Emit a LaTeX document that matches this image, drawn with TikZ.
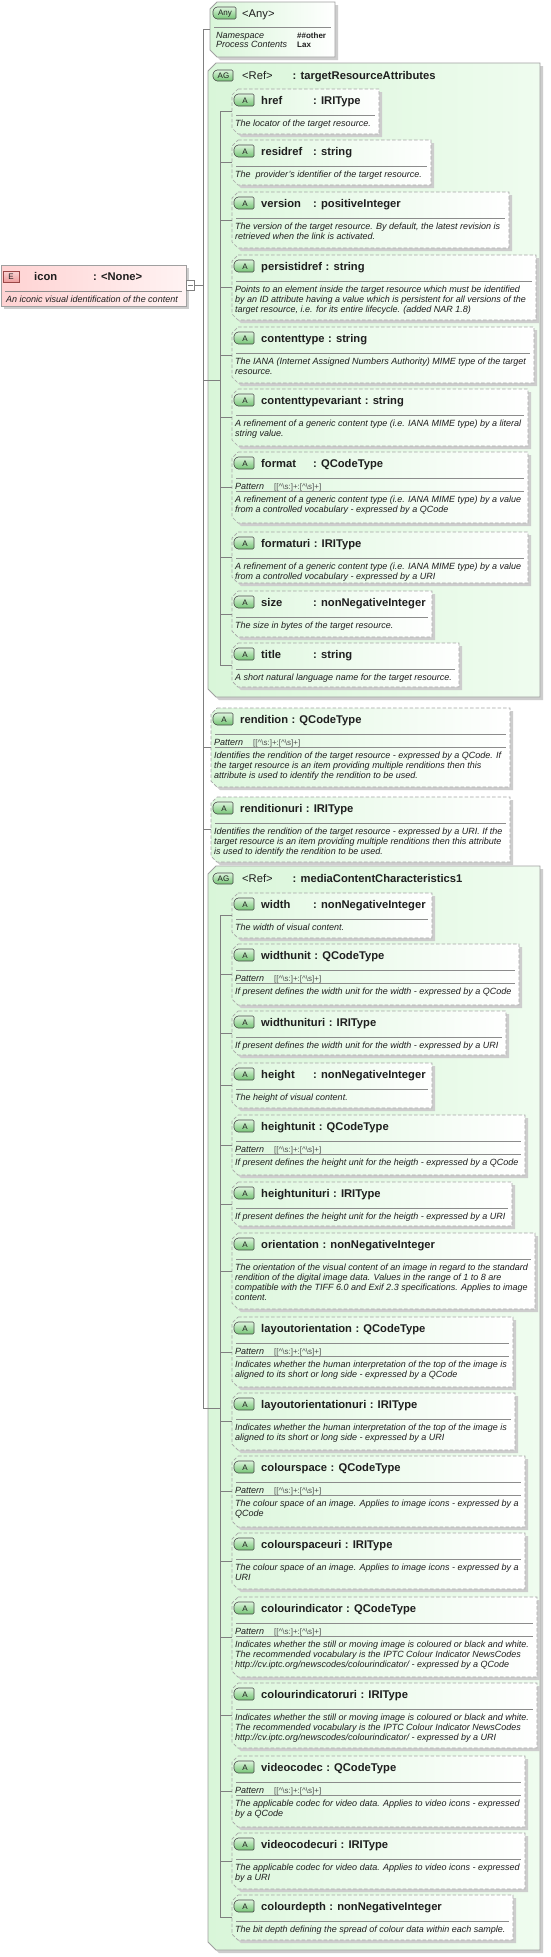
\documentclass[tikz,border=0pt]{standalone}
\usepackage{fontspec}
\setmainfont{Liberation Sans}
\definecolor{connc}{HTML}{7F7F7F}
\definecolor{dashc}{HTML}{A6A6A6}
\definecolor{shadc}{HTML}{CDCDCD}
\definecolor{agline}{HTML}{A0A0A0}
\definecolor{agfill}{HTML}{D9F6D9}
\definecolor{agfillb}{HTML}{EFFCEF}
\definecolor{afill}{HTML}{DDF7DD}
\definecolor{bdga}{HTML}{DDF5DD}
\definecolor{bdgb}{HTML}{74C474}
\definecolor{bdgline}{HTML}{4A4A4A}
\definecolor{txt}{HTML}{1E1E1E}
\definecolor{sepc}{HTML}{8C8C8C}
\definecolor{patc}{HTML}{505050}
\definecolor{efill}{HTML}{FFD2D2}
\definecolor{efillb}{HTML}{FFF3F3}
\definecolor{ebdga}{HTML}{FBD4D4}
\definecolor{ebdgb}{HTML}{EE9C9C}
\definecolor{ebdgline}{HTML}{9A4646}
\newcommand\patval{[[\textasciicircum\textbackslash s:]+:[\textasciicircum\textbackslash s]+]}
\newcommand\ttl[2]{\sbox0{#1}\ifdim\wd0<46pt\makebox[52pt][l]{#1}\else#1\hspace{3.5pt}\fi: #2}
\tikzset{
 conn/.style={draw=connc, line width=0.7pt},
 abody/.style={draw=dashc, line width=0.7pt, dash pattern=on 3.5pt off 2pt, left color=afill, right color=white},
 agbody/.style={draw=agline, line width=0.8pt, left color=agfill, right color=agfillb},
 anybody/.style={draw=agline, line width=0.8pt, left color=agfill, right color=white},
 ebody/.style={draw=agline, line width=0.8pt, left color=efill, right color=efillb},
 sepl/.style={draw=sepc, line width=0.6pt},
 bdg/.style={draw=bdgline, line width=0.6pt, top color=bdga, bottom color=bdgb, rounded corners=1.2pt},
 ebdg/.style={draw=ebdgline, line width=0.6pt, top color=ebdga, bottom color=ebdgb},
 bdgtxt/.style={font=\fontsize{8}{9}\selectfont, text=txt, inner sep=0},
 ttlf/.style={font=\fontsize{11.2}{13}\selectfont\bfseries, text=txt, inner sep=0},
 reff/.style={font=\fontsize{11.2}{13}\selectfont, text=txt, inner sep=0},
 descf/.style={font=\fontsize{9}{10}\selectfont\itshape, text=txt, inner sep=0},
 patf/.style={font=\fontsize{9}{10}\selectfont\itshape, text=txt, inner sep=0},
 patvf/.style={font=\fontsize{8}{9}\selectfont, text=patc, inner sep=0},
 valf/.style={font=\fontsize{8}{9}\selectfont\bfseries, text=txt, inner sep=0},
 hold/.style={inner sep=0, outer sep=0, draw=none},
}
% attribute box: id, x1, y1, x2, y2, name, type, pattern(0/1), description
\newcommand\Abox[9]{%
 \fill[shadc] ({#2+9},{#3+3}) -- ({#4+3},{#3+3}) -- ({#4+3},{#5+3}) -- ({#2+9},{#5+3}) -- ({#2+3},{#5-3}) -- ({#2+3},{#3+9}) -- cycle;
 \path[abody] ({#2+6},#3) -- (#4,#3) -- (#4,#5) -- ({#2+6},#5) -- (#2,{#5-6}) -- (#2,{#3+6}) -- cycle;
 \node[hold, minimum width={#4-#2}, minimum height={#5-#3}, anchor=north west] (#1) at (#2,#3) {};
 \path[bdg] ({#2+5},{#3+5}) -- ({#2+22},{#3+5}) -- ({#2+22},{#3+17}) -- ({#2+5},{#3+17}) -- ({#2+2},{#3+14}) -- ({#2+2},{#3+8}) -- cycle;
 \node[bdgtxt] (#1-b) at ({#2+13},{#3+11.3}) {A};
 \node[ttlf, anchor=base west] (#1-t) at ({#2+29},{#3+15}) {\ttl{#6}{#7}};
 \draw[sepl] ({#2+4},{#3+26}) -- ({#4-4},{#3+26});
 \ifnum#8=1\relax
  \node[patf, anchor=base west] (#1-p) at ({#2+3},{#3+37.5}) {Pattern};
  \node[patvf, anchor=base west] (#1-v) at ({#2+42},{#3+37.5}) {\patval};
  \draw[sepl] ({#2+4},{#3+39.5}) -- ({#4-4},{#3+39.5});
  \node[descf, anchor=base west] (#1-d) at ({#2+3},{#3+50.5}) {\parbox[t]{320pt}{\raggedright #9}};
 \else
  \node[descf, anchor=base west] (#1-d) at ({#2+3},{#3+37.5}) {\parbox[t]{320pt}{\raggedright #9}};
 \fi
}
% attribute group box: id, x1, y1, x2, y2, ref name
\newcommand\AGbox[6]{%
 \fill[shadc] ({#2+11},{#3+3}) -- ({#4+3},{#3+3}) -- ({#4+3},{#5+3}) -- ({#2+11},{#5+3}) -- ({#2+3},{#5-5}) -- ({#2+3},{#3+11}) -- cycle;
 \path[agbody] ({#2+8},#3) -- (#4,#3) -- (#4,#5) -- ({#2+8},#5) -- (#2,{#5-8}) -- (#2,{#3+8}) -- cycle;
 \node[hold, minimum width={#4-#2}, minimum height={#5-#3}, anchor=north west] (#1) at (#2,#3) {};
 \path[bdg] ({#2+8},{#3+7}) -- ({#2+25},{#3+7}) -- ({#2+25},{#3+18}) -- ({#2+8},{#3+18}) -- ({#2+5},{#3+15}) -- ({#2+5},{#3+10}) -- cycle;
 \node[bdgtxt] (#1-b) at ({#2+15.5},{#3+12.7}) {AG};
 \node[reff, anchor=base west] (#1-r) at ({#2+34},{#3+16.5}) {<Ref>};
 \node[ttlf, anchor=base west] (#1-t) at ({#2+84.5},{#3+16.5}) {: #6};
}
\begin{document}
\begin{tikzpicture}[x=1pt,y=-1pt]
\useasboundingbox (0,0) rectangle (551,1957);
\fill[white] (0,0) rectangle (551,1957);
\coordinate (trunk) at (203,0);
\coordinate (v1) at (220,0);
% icon element
\fill[shadc] (4,268) rectangle (189,309);
\path[ebody] (1,265) rectangle (186,306);
\node[hold, minimum width=185, minimum height=41, anchor=north west] (icon) at (1,265) {};
\path[ebdg] (3,271) rectangle (19,282);
\node[bdgtxt] (icon-b) at (11,276.7) {E};
\node[ttlf, anchor=base west] (icon-t) at (34,280.5) {icon};
\node[ttlf, anchor=base west] (icon-ty) at (93,280.5) {: <None>};
\draw[sepl] (5,291) -- (182,291);
\node[descf, anchor=base west] (icon-d) at (6,302) {An iconic visual identification of the content};
\node[draw=connc, fill=white, line width=0.6pt, minimum width=8, minimum height=10, inner sep=0, anchor=west] (exp) at (icon.east) {};
\draw[connc, line width=0.6pt] ([xshift=1.5pt]exp.west) -- ([xshift=-1.5pt]exp.east);
% any
\fill[shadc] (220,5) -- (338,5) -- (338,60) -- (220,60) -- (213,53) -- (213,12) -- cycle;
\path[anybody] (217,2) -- (335,2) -- (335,57) -- (217,57) -- (210,50) -- (210,9) -- cycle;
\node[hold, minimum width=125, minimum height=55, anchor=north west] (any) at (210,2) {};
\path[bdg] (216,7) -- (236,7) -- (236,19) -- (216,19) -- (213,16) -- (213,10) -- cycle;
\node[bdgtxt] (any-b) at (225,13.3) {Any};
\node[reff, anchor=base west] (any-t) at (242,17) {<Any>};
\draw[sepl] (214,27) -- (331,27);
\node[patf, anchor=base west] (any-ns) at (216,38.5) {Namespace};
\node[valf, anchor=base west] (any-nsv) at (297,38.5) {\#\#other};
\node[patf, anchor=base west] (any-pc) at (216,47.5) {Process Contents};
\node[valf, anchor=base west] (any-pcv) at (297,47.5) {Lax};
% group 1
\AGbox{ag1}{208}{63}{540}{697}{targetResourceAttributes}
\Abox{href}{232}{89}{379}{134}{href}{IRIType}{0}{The locator of the target resource.}
\Abox{residref}{232}{140}{431}{185}{residref}{string}{0}{The\ \ provider's identifier of the target resource.}
\Abox{version}{232}{192}{509}{248}{version}{positiveInteger}{0}{The version of the target resource. By default, the latest revision is\\retrieved when the link is activated.}
\Abox{persistidref}{232}{255}{536}{320}{persistidref}{string}{0}{Points to an element inside the target resource which must be identified\\by an ID attribute having a value which is persistent for all versions of the\\target resource, i.e. for its entire lifecycle. (added NAR 1.8)}
\Abox{contenttype}{232}{327}{534}{383}{contenttype}{string}{0}{The IANA (Internet Assigned Numbers Authority) MIME type of the target\\resource.}
\Abox{ctvariant}{232}{389}{528}{446}{contenttypevariant}{string}{0}{A refinement of a generic content type (i.e. IANA MIME type) by a literal\\string value.}
\Abox{format}{232}{452}{528}{523}{format}{QCodeType}{1}{A refinement of a generic content type (i.e. IANA MIME type) by a value\\from a controlled vocabulary - expressed by a QCode}
\Abox{formaturi}{232}{532}{528}{583}{formaturi}{IRIType}{0}{A refinement of a generic content type (i.e. IANA MIME type) by a value\\from a controlled vocabulary - expressed by a URI}
\Abox{size}{232}{591}{432}{637}{size}{nonNegativeInteger}{0}{The size in bytes of the target resource.}
\Abox{titl}{232}{643}{459}{687}{title}{string}{0}{A short natural language name for the target resource.}
% renditions
\Abox{rendition}{211}{708}{510}{787}{rendition}{QCodeType}{1}{Identifies the rendition of the target resource - expressed by a QCode. If\\the target resource is an item providing multiple renditions then this\\attribute is used to identify the rendition to be used.}
\Abox{renditionuri}{211}{797}{510}{862}{renditionuri}{IRIType}{0}{Identifies the rendition of the target resource - expressed by a URI. If the\\target resource is an item providing multiple renditions then this attribute\\is used to identify the rendition to be used.}
% group 2
\AGbox{ag2}{208}{866}{540}{1950}{mediaContentCharacteristics1}
\Abox{width}{232}{893}{432}{938}{width}{nonNegativeInteger}{0}{The width of visual content.}
\Abox{widthunit}{232}{944}{519}{1005}{widthunit}{QCodeType}{1}{If present defines the width unit for the width - expressed by a QCode}
\Abox{widthunituri}{232}{1011}{506}{1055}{widthunituri}{IRIType}{0}{If present defines the width unit for the width - expressed by a URI}
\Abox{height}{232}{1063}{432}{1108}{height}{nonNegativeInteger}{0}{The height of visual content.}
\Abox{heightunit}{232}{1115}{525}{1175}{heightunit}{QCodeType}{1}{If present defines the height unit for the heigth - expressed by a QCode}
\Abox{heightunituri}{232}{1182}{512}{1226}{heightunituri}{IRIType}{0}{If present defines the height unit for the heigth - expressed by a URI}
\Abox{orientation}{232}{1233}{535}{1309}{orientation}{nonNegativeInteger}{0}{The orientation of the visual content of an image in regard to the standard\\rendition of the digital image data. Values in the range of 1 to 8 are\\compatible with the TIFF 6.0 and Exif 2.3 specifications. Applies to image\\content.}
\Abox{layoutorientation}{232}{1317}{513}{1387}{layoutorientation}{QCodeType}{1}{Indicates whether the human interpretation of the top of the image is\\aligned to its short or long side - expressed by a QCode}
\Abox{layoutorientationuri}{232}{1393}{515}{1450}{layoutorientationuri}{IRIType}{0}{Indicates whether the human interpretation of the top of the image is\\aligned to its short or long side - expressed by a URI}
\Abox{colourspace}{232}{1456}{525}{1527}{colourspace}{QCodeType}{1}{The colour space of an image. Applies to image icons - expressed by a\\QCode}
\Abox{colourspaceuri}{232}{1533}{525}{1589}{colourspaceuri}{IRIType}{0}{The colour space of an image. Applies to image icons - expressed by a\\URI}
\Abox{colourindicator}{232}{1597}{537}{1677}{colourindicator}{QCodeType}{1}{Indicates whether the still or moving image is coloured or black and white.\\The recommended vocabulary is the IPTC Colour Indicator NewsCodes\\http://cv.iptc.org/newscodes/colourindicator/ - expressed by a QCode}
\Abox{colourindicatoruri}{232}{1683}{537}{1748}{colourindicatoruri}{IRIType}{0}{Indicates whether the still or moving image is coloured or black and white.\\The recommended vocabulary is the IPTC Colour Indicator NewsCodes\\http://cv.iptc.org/newscodes/colourindicator/ - expressed by a URI}
\Abox{videocodec}{232}{1756}{525}{1827}{videocodec}{QCodeType}{1}{The applicable codec for video data. Applies to video icons - expressed\\by a QCode}
\Abox{videocodecuri}{232}{1833}{525}{1889}{videocodecuri}{IRIType}{0}{The applicable codec for video data. Applies to video icons - expressed\\by a URI}
\Abox{colourdepth}{232}{1895}{513}{1940}{colourdepth}{nonNegativeInteger}{0}{The bit depth defining the spread of colour data within each sample.}
% connectors
\draw[conn] (any.west -| trunk) -- (ag2.west -| trunk);
\draw[conn] (any.west -| trunk) -- (any.west);
\draw[conn] (exp.east) -- (exp.east -| trunk);
\draw[conn] (ag1.west -| trunk) -- (ag1.west -| v1);
\draw[conn] (rendition.west -| trunk) -- (rendition.west);
\draw[conn] (renditionuri.west -| trunk) -- (renditionuri.west);
\draw[conn] (ag2.west -| trunk) -- (ag2.west -| v1);
\draw[conn] (href.west -| v1) -- (titl.west -| v1);
\foreach \n in {href,residref,version,persistidref,contenttype,ctvariant,format,formaturi,size,titl}
  \draw[conn] (\n.west -| v1) -- (\n.west);
\draw[conn] (width.west -| v1) -- (colourdepth.west -| v1);
\foreach \n in {width,widthunit,widthunituri,height,heightunit,heightunituri,orientation,layoutorientation,layoutorientationuri,colourspace,colourspaceuri,colourindicator,colourindicatoruri,videocodec,videocodecuri,colourdepth}
  \draw[conn] (\n.west -| v1) -- (\n.west);
\end{tikzpicture}
\end{document}
